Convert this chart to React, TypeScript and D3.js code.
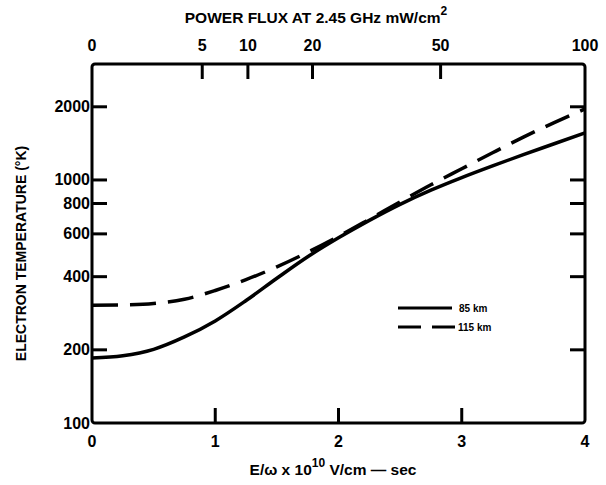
import React, { useEffect, useRef } from 'react';
import * as d3 from 'd3';

// E/omega x 10^10 V/cm-sec
const eField = [0, 0.25, 0.5, 0.75, 1, 1.25, 1.5, 1.75, 2, 2.25, 2.5, 2.75, 3, 3.25, 3.5, 3.75, 4];
// electron temperature (K)
const temp85 = [185, 189, 201, 226, 263, 319, 394, 483, 578, 682, 794, 908, 1023, 1143, 1271, 1409, 1563];
const temp115 = [305, 306, 310, 323, 351, 389, 439, 504, 586, 689, 813, 955, 1112, 1294, 1500, 1722, 1960];

const xTicks = [0, 1, 2, 3, 4];
const yTicks = [100, 200, 400, 600, 800, 1000, 2000];
const powerTicks = [0, 5, 10, 20, 50, 100];

const FONT = '"Liberation Sans", Arial, sans-serif';

export default function App() {
  const svgRef = useRef<SVGSVGElement>(null);

  useEffect(() => {
    document.body.style.margin = '0';
    const svg = d3.select(svgRef.current);
    svg.selectAll('*').remove();

    const left = 92, right = 585, top = 64, bottom = 423;

    const x = d3.scaleLinear().domain([0, 4]).range([left, right]);
    const y = d3.scaleLog().domain([100, 3000]).range([bottom, top]);
    // power flux goes as E^2
    const xTop = d3.scaleSqrt().domain([0, 100]).range([left, right]);

    const g = svg.append('g');

    // frame
    g.append('rect')
      .attr('x', left)
      .attr('y', top)
      .attr('width', right - left)
      .attr('height', bottom - top)
      .attr('rx', 3)
      .attr('fill', 'none')
      .attr('stroke', '#000')
      .attr('stroke-width', 3);

    // ticks pointing inward
    const tickLen = 15;
    yTicks.filter(v => v !== 100).forEach(v => {
      g.append('line')
        .attr('x1', left).attr('x2', left + tickLen)
        .attr('y1', y(v)).attr('y2', y(v))
        .attr('stroke', '#000').attr('stroke-width', 3);
      g.append('line')
        .attr('x1', right).attr('x2', right - tickLen)
        .attr('y1', y(v)).attr('y2', y(v))
        .attr('stroke', '#000').attr('stroke-width', 3);
    });
    xTicks.filter(v => v > 0 && v < 4).forEach(v => {
      g.append('line')
        .attr('x1', x(v)).attr('x2', x(v))
        .attr('y1', bottom).attr('y2', bottom - tickLen)
        .attr('stroke', '#000').attr('stroke-width', 3);
    });
    powerTicks.filter(v => v > 0 && v < 100).forEach(v => {
      g.append('line')
        .attr('x1', xTop(v)).attr('x2', xTop(v))
        .attr('y1', top).attr('y2', top + tickLen)
        .attr('stroke', '#000').attr('stroke-width', 3);
    });

    // tick labels
    const label = (tx: number, ty: number, s: string, anchor = 'middle', size = 16) =>
      g.append('text')
        .attr('x', tx)
        .attr('y', ty)
        .attr('text-anchor', anchor)
        .attr('dominant-baseline', 'central')
        .style('font-family', FONT)
        .style('font-weight', 'bold')
        .style('font-size', `${size}px`)
        .text(s);

    yTicks.forEach(v => label(left - 2, y(v), String(v), 'end'));
    xTicks.forEach(v => label(x(v), 441, String(v)));
    powerTicks.forEach(v => label(xTop(v), 45, String(v)));

    // axis titles
    const title = g.append('text')
      .attr('x', 316)
      .attr('y', 17)
      .attr('text-anchor', 'middle')
      .attr('dominant-baseline', 'central')
      .style('font-family', FONT)
      .style('font-weight', 'bold')
      .style('font-size', '15.5px');
    title.append('tspan').text('POWER FLUX AT 2.45 GHz mW/cm');
    title.append('tspan').attr('dy', -6).style('font-size', '12px').text('2');

    const xt = g.append('text')
      .attr('x', 333)
      .attr('y', 469)
      .attr('text-anchor', 'middle')
      .attr('dominant-baseline', 'central')
      .style('font-family', FONT)
      .style('font-weight', 'bold')
      .style('font-size', '15.5px');
    xt.append('tspan').text('E/ω x 10');
    xt.append('tspan').attr('dy', -6).style('font-size', '12px').text('10');
    xt.append('tspan').attr('dy', 6).text(' V/cm — sec');

    g.append('text')
      .attr('transform', `translate(21,${(top + bottom) / 2 + 10}) rotate(-90)`)
      .attr('text-anchor', 'middle')
      .attr('dominant-baseline', 'central')
      .style('font-family', FONT)
      .style('font-weight', 'bold')
      .style('font-size', '14px')
      .text('ELECTRON TEMPERATURE (°K)');

    // curves
    const line = d3
      .line<number>()
      .x((_, i) => x(eField[i]))
      .y(d => y(d))
      .curve(d3.curveMonotoneX);

    g.append('path')
      .datum(temp85)
      .attr('d', line)
      .attr('fill', 'none')
      .attr('stroke', '#000')
      .attr('stroke-width', 3.5);

    g.append('path')
      .datum(temp115)
      .attr('d', line)
      .attr('fill', 'none')
      .attr('stroke', '#000')
      .attr('stroke-width', 3.5)
      .attr('stroke-dasharray', '26,12');

    // legend
    const lg = g.append('g');
    lg.append('line')
      .attr('x1', 398).attr('x2', 452).attr('y1', 308).attr('y2', 308)
      .attr('stroke', '#000').attr('stroke-width', 3);
    lg.append('line')
      .attr('x1', 398).attr('x2', 455).attr('y1', 327).attr('y2', 327)
      .attr('stroke', '#000').attr('stroke-width', 3)
      .attr('stroke-dasharray', '23,11');
    label(459, 308, '85 km', 'start', 10);
    label(458, 327, '115 km', 'start', 10);
  }, []);

  return <svg ref={svgRef} width={606} height={485} style={{ display: 'block', background: '#fff' }} />;
}
